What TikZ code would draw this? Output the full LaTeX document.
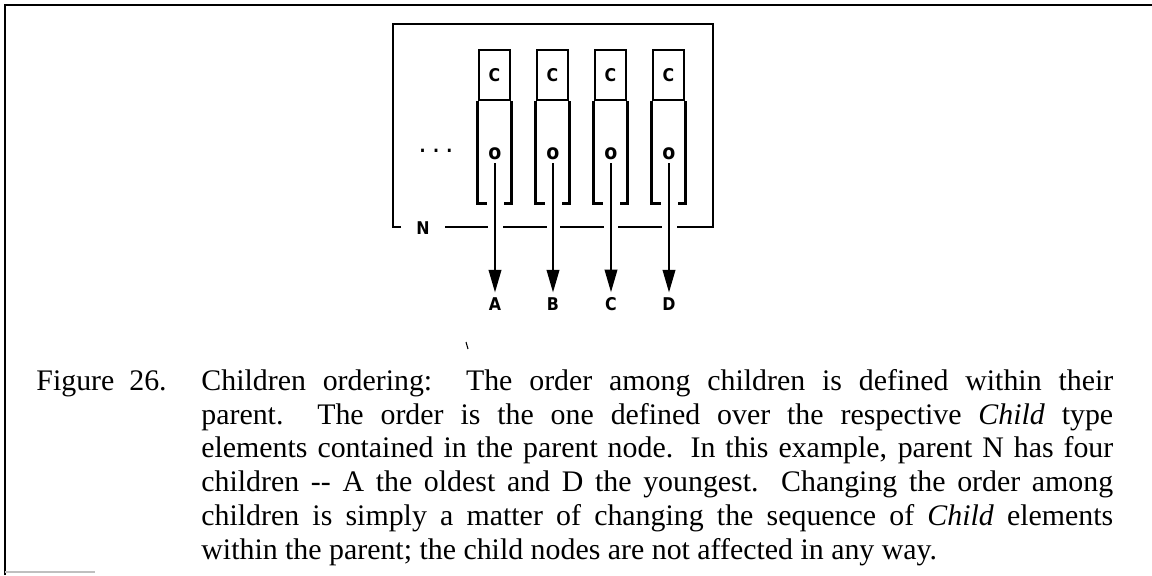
\documentclass[tikz,border=0pt]{standalone}
\usepackage{fontspec}
\setmainfont{Liberation Serif}
\setsansfont{DejaVu Sans Condensed}
\usetikzlibrary{arrows.meta,positioning}
\tikzset{
  cell/.style={
      rectangle,
      draw,
      minimum width=0.62cm,
      minimum height=1cm,
      inner sep=0pt,
      font=\sffamily\bfseries\fontsize{10}{12}\selectfont
  },
  elem/.style={
      inner sep=1pt,
      font=\sffamily\bfseries\fontsize{10}{12}\selectfont
  },
  ptr/.style={
      -{Triangle[length=13pt,width=7pt]}
  },
  captext/.style={
      inner sep=0pt,
      font=\fontsize{17}{19.3}\selectfont
  }
}

\begin{document}
\begin{tikzpicture}[x=0.02cm,y=-0.02cm,line width=1.6pt]
    \useasboundingbox (0,0) rectangle (1152,575);
    % page frame
    \draw[line width=1pt] (5,575) -- (5,5) -- (1152,5);
    \draw[line width=0.8pt,black!25] (5,572) -- (95,572);
    % parent node N
    \draw (401,227) -- (393,227) -- (393,24) -- (713,24) -- (713,227) -- (677,227);
    \draw (445,227) -- (488,227);
    \draw (503,227) -- (547,227);
    \draw (560,227) -- (604,227);
    \draw (618,227) -- (662,227);
    \node[elem] (N) at (423,228) {N};
    \node[elem] (dots) at (436,151) {. . .};
    % child elements
    \node[cell] (c1) at (494.5,75) {C};
    \node[cell] (c2) at (552.5,75) {C};
    \node[cell] (c3) at (610.5,75) {C};
    \node[cell] (c4) at (668.5,75) {C};
    \draw (c1.south west) -- ++(0,102) -- ++(9,0);
    \draw (c1.south east) -- ++(0,102) -- ++(-7,0);
    \draw (c2.south west) -- ++(0,102) -- ++(9,0);
    \draw (c2.south east) -- ++(0,102) -- ++(-7,0);
    \draw (c3.south west) -- ++(0,102) -- ++(9,0);
    \draw (c3.south east) -- ++(0,102) -- ++(-7,0);
    \draw (c4.south west) -- ++(0,102) -- ++(9,0);
    \draw (c4.south east) -- ++(0,102) -- ++(-7,0);
    \node[elem,font=\sffamily\bfseries\fontsize{12}{12}\selectfont] (o1) at (495,154) {o};
    \node[elem,font=\sffamily\bfseries\fontsize{12}{12}\selectfont] (o2) at (553,154) {o};
    \node[elem,font=\sffamily\bfseries\fontsize{12}{12}\selectfont] (o3) at (611,154) {o};
    \node[elem,font=\sffamily\bfseries\fontsize{12}{12}\selectfont] (o4) at (669,154) {o};
    % children
    \node[elem,inner sep=2pt] (A) at (495,304) {A};
    \node[elem,inner sep=2pt] (B) at (553,304) {B};
    \node[elem,inner sep=2pt] (C) at (611,304) {C};
    \node[elem,inner sep=2pt] (D) at (669,304) {D};
    \draw[ptr] (o1) -- (A);
    \draw[ptr] (o2) -- (B);
    \draw[ptr] (o3) -- (C);
    \draw[ptr] (o4) -- (D);
    % caption
    \draw[line width=0.6pt] (466,342) -- (468,349);
    \node[captext,anchor=north west] (fig) at (35,365) {\strut Figure\ \ 26.};
    \node[captext,anchor=north west,text width=18.24cm,align=justify] (cap) at (200,365)
      {\strut Children ordering:\ \ The order among children is defined within their\linebreak
       parent.\ \ The order is the one defined over the respective \textit{Child} type\linebreak
       elements contained in the parent node. In this example, parent N has four\linebreak
       children -{}- A the oldest and D the youngest. Changing the order among\linebreak
       children is simply a matter of changing the sequence of \textit{Child} elements\linebreak
       within the parent; the child nodes are not affected in any way.};
\end{tikzpicture}
\end{document}
